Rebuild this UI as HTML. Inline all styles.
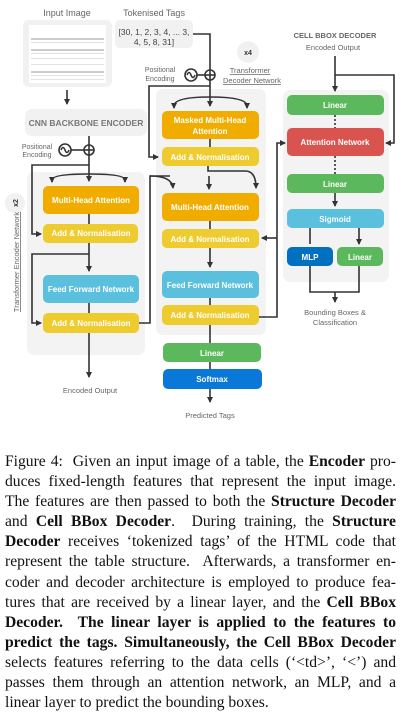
<!DOCTYPE html>
<html><head><style>
body{margin:0;width:401px;height:711px;background:#fff;overflow:hidden;position:relative}
svg{position:absolute;left:0;top:0}
.cap{position:absolute;left:5px;top:452px;width:391px;font-family:"Liberation Serif",serif;font-size:15.6px;line-height:20.1px;color:#111}
.cap span{display:block;text-align:justify;text-align-last:justify;white-space:nowrap}
.cap span.l{text-align-last:left}
</style></head><body>
<svg width="401" height="440" viewBox="0 0 401 440" font-family="Liberation Sans, sans-serif">
<defs><marker id="a" markerWidth="6" markerHeight="6" refX="5" refY="3" orient="auto" markerUnits="userSpaceOnUse"><path d="M0,0 L6,3 L0,6 z" fill="#333"/></marker></defs>
<rect x="23" y="20" width="89" height="67" rx="6" fill="#f1f1f1"/>
<rect x="29" y="25" width="77" height="58" fill="#fff"/>
<g fill="#ccc"><rect x="31" y="38" width="73" height="2"/><rect x="31" y="49" width="73" height="2"/><rect x="31" y="71" width="73" height="2"/></g>
<g fill="#e2e2e2"><rect x="31" y="42" width="73" height="1"/><rect x="31" y="53" width="73" height="1"/><rect x="31" y="58" width="73" height="1"/><rect x="31" y="64" width="73" height="1"/><rect x="31" y="75" width="73" height="1"/><rect x="31" y="79" width="73" height="1"/></g>
<rect x="115" y="20" width="78" height="28" rx="5" fill="#f1f1f1"/>
<rect x="25" y="109" width="122" height="27" rx="7" fill="#f1f1f1"/>
<rect x="27" y="172" width="118" height="183" rx="7" fill="#f3f3f3"/>
<rect x="156" y="89" width="110" height="246" rx="7" fill="#f3f3f3"/>
<rect x="283" y="90" width="106" height="192" rx="7" fill="#f3f3f3"/>
<circle cx="248" cy="52" r="11" fill="#f1f1f1"/>
<circle cx="15" cy="203" r="10" fill="#f1f1f1"/>
<g fill="#666" font-size="9" text-anchor="middle">
<text x="67" y="16">Input Image</text>
<text x="154" y="16">Tokenised Tags</text>
<text x="154" y="35" fill="#444" font-size="8.5">[30,  1,  2,  3,  4, ... 3,</text>
<text x="154" y="45" fill="#444" font-size="8.5">4,  5,  8, 31]</text>
<text x="86" y="126" font-weight="bold" fill="#777" font-size="8.5">CNN BACKBONE ENCODER</text>
<text x="37" y="149" font-size="7">Positional</text><text x="37" y="157" font-size="7">Encoding</text>
<text x="160" y="72" font-size="7">Positional</text><text x="160" y="81" font-size="7">Encoding</text>
<text x="248" y="55" font-size="7" font-weight="bold" fill="#333">x4</text>
<text x="250" y="73" font-size="7.5" text-decoration="underline">Transformer</text>
<text x="252" y="83" font-size="7.5" text-decoration="underline">Decoder Network</text>
<text x="335" y="38" font-weight="bold" font-size="7.5">CELL BBOX DECODER</text>
<text x="333" y="50" font-size="7.5">Encoded Output</text>
<text x="335" y="315" font-size="7.5">Bounding Boxes &amp;</text>
<text x="335" y="325" font-size="7.5">Classification</text>
<text x="90" y="393" font-size="7.5">Encoded Output</text>
<text x="210" y="418" font-size="7.5">Predicted Tags</text>
<text transform="translate(18,203) rotate(-90)" font-size="7" font-weight="bold" fill="#333">x2</text>
<text transform="translate(19,262) rotate(-90)" font-size="7.5" text-decoration="underline">Transformer Encoder Network</text>
</g>
<g font-size="8" font-weight="bold" fill="#fff" text-anchor="middle">
<rect x="43" y="186" width="96" height="28" rx="5" fill="#f0ad00"/><text x="91" y="203">Multi-Head Attention</text>
<rect x="43" y="224" width="95" height="19" rx="5" fill="#eecb2f"/><text x="91" y="236">Add &amp; Normalisation</text>
<rect x="43" y="275" width="96" height="28" rx="5" fill="#5bc0de"/><text x="91" y="292">Feed Forward Network</text>
<rect x="43" y="313" width="96" height="20" rx="5" fill="#eecb2f"/><text x="91" y="326">Add &amp; Normalisation</text>
<rect x="162" y="111" width="97" height="28" rx="5" fill="#f0ad00"/><text x="210" y="123">Masked Multi-Head</text><text x="210" y="134">Attention</text>
<rect x="162" y="147" width="97" height="19" rx="5" fill="#eecb2f"/><text x="210" y="160">Add &amp; Normalisation</text>
<rect x="162" y="193" width="97" height="28" rx="5" fill="#f0ad00"/><text x="210" y="210">Multi-Head Attention</text>
<rect x="162" y="229" width="97" height="19" rx="5" fill="#eecb2f"/><text x="210" y="242">Add &amp; Normalisation</text>
<rect x="162" y="271" width="97" height="27" rx="5" fill="#5bc0de"/><text x="210" y="288">Feed Forward Network</text>
<rect x="162" y="305" width="97" height="20" rx="5" fill="#eecb2f"/><text x="210" y="318">Add &amp; Normalisation</text>
<rect x="163" y="343" width="98" height="19" rx="5" fill="#5cb85c"/><text x="212" y="356">Linear</text>
<rect x="163" y="369" width="99" height="20" rx="5" fill="#0a78d6"/><text x="212" y="382">Softmax</text>
<rect x="287" y="95" width="97" height="20" rx="5" fill="#5cb85c"/><text x="335" y="108">Linear</text>
<rect x="287" y="128" width="97" height="28" rx="5" fill="#d9534f"/><text x="335" y="145">Attention Network</text>
<rect x="287" y="174" width="97" height="19" rx="5" fill="#5cb85c"/><text x="335" y="187">Linear</text>
<rect x="287" y="209" width="97" height="19" rx="5" fill="#5bc0de"/><text x="335" y="222">Sigmoid</text>
<rect x="287" y="247" width="46" height="19" rx="5" fill="#0270c0"/><text x="310" y="260">MLP</text>
<rect x="337" y="247" width="46" height="19" rx="5" fill="#5cb85c"/><text x="360" y="260">Linear</text>
</g>
<g stroke="#333" stroke-width="1.6" fill="none">
<path d="M67 90 V104" marker-end="url(#a)"/>
<path d="M89 136 V181" marker-end="url(#a)"/>
<path d="M71 150 H84"/><circle cx="65" cy="150" r="6"/><path d="M61 150 q2 -5 4 0 q2 5 4 0"/><circle cx="89" cy="150" r="5"/><path d="M84 150 H94"/>
<path d="M89 165 H32 V234 H41" marker-end="url(#a)"/>
<path d="M52 180 Q52 174 89 174 Q125 174 125 180" /><path d="M52 177 V182" marker-end="url(#a)"/><path d="M125 177 V182" marker-end="url(#a)"/>
<path d="M89 214 V224 M89 243 V271" marker-end="url(#a)"/>
<path d="M89 254 H32 V323 H41" marker-end="url(#a)"/>
<path d="M89 303 V313"/>
<path d="M89 333 V377" marker-end="url(#a)"/>
<path d="M139 323 H150 V176 H170" />
<path d="M150 176 Q172 176 173 188" marker-end="url(#a)"/>
<path d="M193 34 H210 V106" marker-end="url(#a)"/>
<path d="M197 75 H205"/><circle cx="191" cy="75" r="6"/><path d="M187 75 q2 -5 4 0 q2 5 4 0"/><circle cx="210" cy="75" r="5"/><path d="M205 75 H215"/>
<path d="M210 86 H149 V157 H158" marker-end="url(#a)"/>
<path d="M174 106 Q174 97 210 97 Q247 97 247 106" /><path d="M174 103 V108" marker-end="url(#a)"/><path d="M247 103 V108" marker-end="url(#a)"/>
<path d="M210 139 V147"/>
<path d="M208 166 V171 H245 Q256 171 256 188" marker-end="url(#a)"/>
<path d="M209 176 V189" marker-end="url(#a)"/>
<path d="M210 221 V229 M210 248 V267" marker-end="url(#a)"/>
<path d="M210 298 V305 M210 325 V343 M210 362 V369"/>
<path d="M210 389 V402" marker-end="url(#a)"/>
<path d="M259 317 H277 V143 H285" marker-end="url(#a)"/>
<path d="M277 238 H262" marker-end="url(#a)"/>
<path d="M335 56 V91" marker-end="url(#a)"/>
<path d="M335 75 H394 V143 H386" marker-end="url(#a)"/>
<path d="M335 115 V128 M335 156 V174" stroke-dasharray="2 2"/>
<path d="M335 193 V206" marker-end="url(#a)"/>
<path d="M310 228 V244 M359 228 V244" marker-end="url(#a)"/>
<path d="M310 266 V292 H359 V266 M335 292 V302" marker-end="url(#a)"/>
</g>
</svg>
<div class="cap">
<span>Figure 4:&nbsp; Given an input image of a table, the <b>Encoder</b> pro-</span>
<span>duces fixed-length features that represent the input image.</span>
<span>The features are then passed to both the <b>Structure Decoder</b></span>
<span>and <b>Cell BBox Decoder</b>.&nbsp; During training, the <b>Structure</b></span>
<span><b>Decoder</b> receives ‘tokenized tags’ of the HTML code that</span>
<span>represent the table structure.&nbsp; Afterwards, a transformer en-</span>
<span>coder and decoder architecture is employed to produce fea-</span>
<span>tures that are received by a linear layer, and the <b>Cell BBox</b></span>
<span><b>Decoder.&nbsp; The linear layer is applied to the features to</b></span>
<span><b>predict the tags. Simultaneously, the Cell BBox Decoder</b></span>
<span>selects features referring to the data cells (‘&lt;td&gt;’, ‘&lt;’) and</span>
<span>passes them through an attention network, an MLP, and a</span>
<span class="l">linear layer to predict the bounding boxes.</span>
</div>
</body></html>
